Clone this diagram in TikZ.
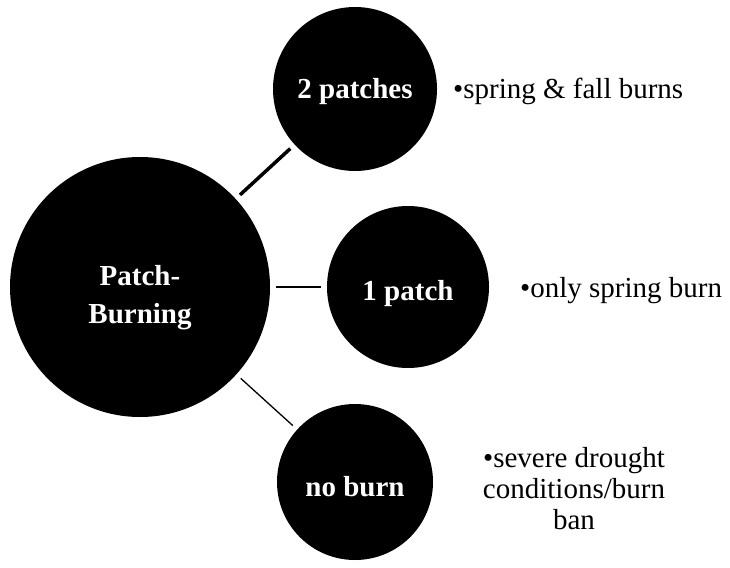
\documentclass[tikz,border=0pt]{standalone}
\usepackage{fontspec}
\setmainfont{Liberation Serif}
\begin{document}
\begin{tikzpicture}[x=1pt,y=-1pt,
  blob/.style={circle,fill=black,draw=none,inner sep=0pt,outer sep=6pt},
  inlbl/.style={text=white,font=\fontsize{29}{38}\selectfont\bfseries,inner sep=0pt,align=center},
  note/.style={font=\fontsize{29}{31}\selectfont,inner sep=0pt,align=center},
  link/.style={draw=black}]
\useasboundingbox (0,0) rectangle (730,567);
\node[blob,minimum size=260pt] (big) at (140,287) {};
\node[blob,minimum size=164pt] (two) at (355,89) {};
\node[blob,minimum size=162pt] (one) at (408,287) {};
\node[blob,minimum size=156pt] (none) at (355,482) {};
\draw[link,line width=3.5pt] (big) -- (two);
\draw[link,line width=1.8pt] (big) -- (one);
\draw[link,line width=1.3pt] (big) -- (none);
\node[inlbl,anchor=north] (bigt) at ([yshift=22pt]big.center) {Patch-\\Burning};
\node[inlbl,anchor=base] (twot) at ([yshift=-10pt]two.center) {2 patches};
\node[inlbl,anchor=base] (onet) at ([yshift=-13pt]one.center) {1 patch};
\node[inlbl,anchor=base] (nonet) at ([yshift=-14pt]none.center) {no burn};
\node[note,anchor=base west] (n1) at (453,99) {\textbullet spring \& fall burns};
\node[note,anchor=base west] (n2) at (520,297) {\textbullet only spring burn};
\node[note,anchor=north] (n3) at (574,447) {\textbullet severe drought\\conditions/burn\\ban};
\end{tikzpicture}
\end{document}
